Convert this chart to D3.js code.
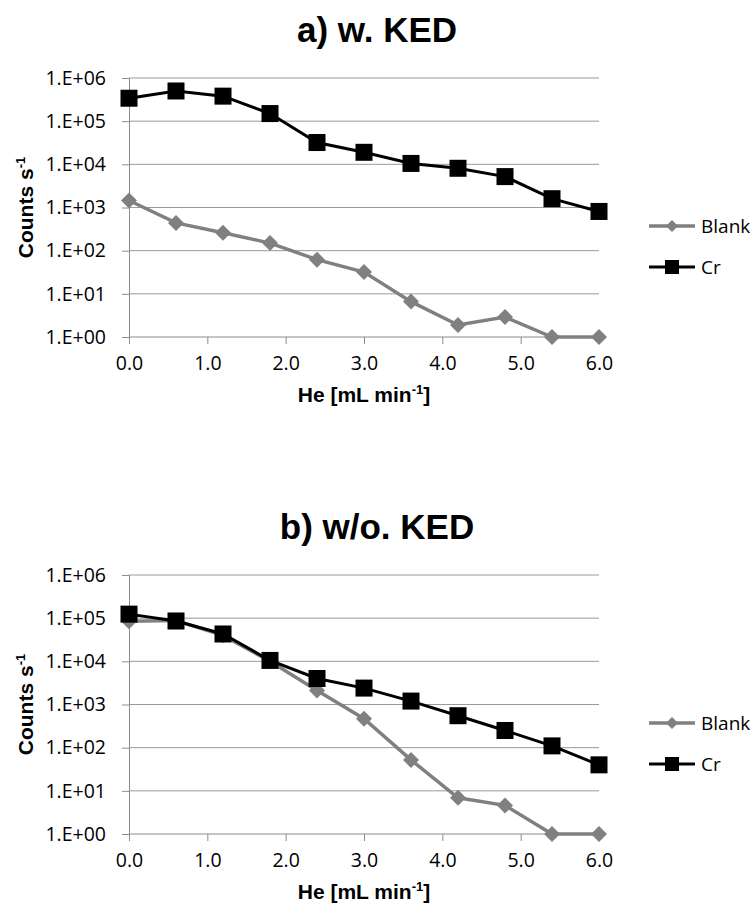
<!DOCTYPE html>
<html>
<head>
<meta charset="utf-8">
<script src="https://cdn.jsdelivr.net/npm/d3@7"></script>
<style>
  body { margin: 0; background: #fff; }
  svg text { fill: #000; }
</style>
</head>
<body>
<svg id="chart" width="755" height="909"></svg>
<script>
// He flow steps (mL/min)
const heFlow = [0, 0.6, 1.2, 1.8, 2.4, 3.0, 3.6, 4.2, 4.8, 5.4, 6.0];
const xTicks = [0, 1, 2, 3, 4, 5, 6];
const yTicks = [1, 10, 100, 1000, 10000, 100000, 1000000];

// panel a) with KED
const blankKED = [1450, 440, 260, 150, 62, 32, 6.6, 1.9, 2.9, 1, 1];
const crKED = [340000, 500000, 380000, 150000, 32000, 19000, 10500, 8100, 5200, 1600, 810];

// panel b) without KED
const blankNoKED = [85000, 88000, 40000, 10000, 2100, 470, 52, 6.9, 4.6, 1, 1];
const crNoKED = [124000, 86000, 43000, 10500, 4000, 2400, 1200, 550, 250, 110, 40];

const seriesNames = ["Blank", "Cr"];
const titles = ["a) w. KED", "b) w/o. KED"];

const tickFont = "'Open Sans', 'DejaVu Sans', sans-serif";
const boldFont = "'Liberation Sans', Arial, sans-serif";

const svg = d3.select("svg#chart");
const x = d3.scaleLinear().domain([0, 6]).range([129, 599]);

/**
 * Draws one panel (title, axes, grid, two series and legend).
 */
function drawPanel(top, title, blank, cr) {
  const g = svg.append("g").attr("transform", "translate(0," + top + ")");
  const y = d3.scaleLog().domain([1, 1e6]).range([259, 0]);

  g.append("text")
      .attr("x", 377).attr("y", -36)
      .attr("text-anchor", "middle")
      .style("font-family", boldFont)
      .style("font-weight", "bold")
      .style("font-size", "35px")
      .text(title);

  // gridlines
  g.append("g")
      .selectAll("line")
      .data(yTicks.slice(1))
      .join("line")
      .attr("x1", x(0)).attr("x2", x(6))
      .attr("y1", (d) => y(d)).attr("y2", (d) => y(d))
      .attr("stroke", "#9a9a9a")
      .attr("stroke-width", 1);

  const yAxis = g.append("g")
      .attr("transform", "translate(" + x(0) + ",0)")
      .call(d3.axisLeft(y).tickValues(yTicks).tickSize(7).tickPadding(16)
          .tickFormat((d) => "1.E+0" + Math.round(Math.log10(d))));
  yAxis.selectAll("line, path").attr("stroke", "#8c8c8c");
  yAxis.selectAll("text")
      .style("font-family", tickFont)
      .style("font-size", "19.5px");

  const xAxis = g.append("g")
      .attr("transform", "translate(0," + y(1) + ")")
      .call(d3.axisBottom(x).tickValues(xTicks).tickSize(7).tickPadding(12)
          .tickFormat(d3.format(".1f")));
  xAxis.selectAll("line, path").attr("stroke", "#8c8c8c");
  xAxis.select("path").attr("d", "M" + x(0) + ",0H" + x(6));
  xAxis.selectAll("text")
      .style("font-family", tickFont)
      .style("font-size", "19.5px");

  // axis titles
  const xt = g.append("text")
      .attr("x", 364).attr("y", 324)
      .attr("text-anchor", "middle")
      .style("font-family", boldFont)
      .style("font-weight", "bold")
      .style("font-size", "21px");
  xt.append("tspan").text("He [mL min");
  xt.append("tspan").attr("dy", -8).style("font-size", "13px").text("-1");
  xt.append("tspan").attr("dy", 8).text("]");

  const yt = g.append("text")
      .attr("transform", "translate(33," + y(1000) + ") rotate(-90)")
      .attr("text-anchor", "middle")
      .style("font-family", boldFont)
      .style("font-weight", "bold")
      .style("font-size", "21px");
  yt.append("tspan").text("Counts s");
  yt.append("tspan").attr("dy", -8).style("font-size", "13px").text("-1");

  const line = d3.line()
      .x((d, i) => x(heFlow[i]))
      .y((d) => y(d));

  // Blank series
  g.append("path")
      .datum(blank)
      .attr("fill", "none")
      .attr("stroke", "#808080")
      .attr("stroke-width", 3.5)
      .attr("d", line);
  g.append("g")
      .selectAll("path")
      .data(blank)
      .join("path")
      .attr("transform", (d, i) => "translate(" + x(heFlow[i]) + "," + y(d) + ")")
      .attr("d", "M0,-8L8,0L0,8L-8,0Z")
      .attr("fill", "#808080");

  // Cr series
  g.append("path")
      .datum(cr)
      .attr("fill", "none")
      .attr("stroke", "#000")
      .attr("stroke-width", 3)
      .attr("d", line);
  g.append("g")
      .selectAll("rect")
      .data(cr)
      .join("rect")
      .attr("x", (d, i) => x(heFlow[i]) - 8.5)
      .attr("y", (d) => y(d) - 8.5)
      .attr("width", 17).attr("height", 17)
      .attr("fill", "#000");

  // legend
  const leg = g.append("g").attr("transform", "translate(649,0)");
  const legY = [148, 189];
  seriesNames.forEach((name, i) => {
    const row = leg.append("g").attr("transform", "translate(0," + legY[i] + ")");
    row.append("line")
        .attr("x1", 0).attr("x2", 46)
        .attr("stroke", i == 0 ? "#808080" : "#000")
        .attr("stroke-width", i == 0 ? 3.5 : 3);
    if (i == 0) {
      row.append("path").attr("d", "M23,-6L29,0L23,6L17,0Z").attr("fill", "#808080");
    } else {
      row.append("rect").attr("x", 16).attr("y", -7)
          .attr("width", 14).attr("height", 14).attr("fill", "#000");
    }
    row.append("text")
        .attr("x", 52).attr("y", 7)
        .style("font-family", tickFont)
        .style("font-size", "19px")
        .text(name);
  });
}

drawPanel(78, titles[0], blankKED, crKED);
drawPanel(575, titles[1], blankNoKED, crNoKED);
</script>
</body>
</html>
